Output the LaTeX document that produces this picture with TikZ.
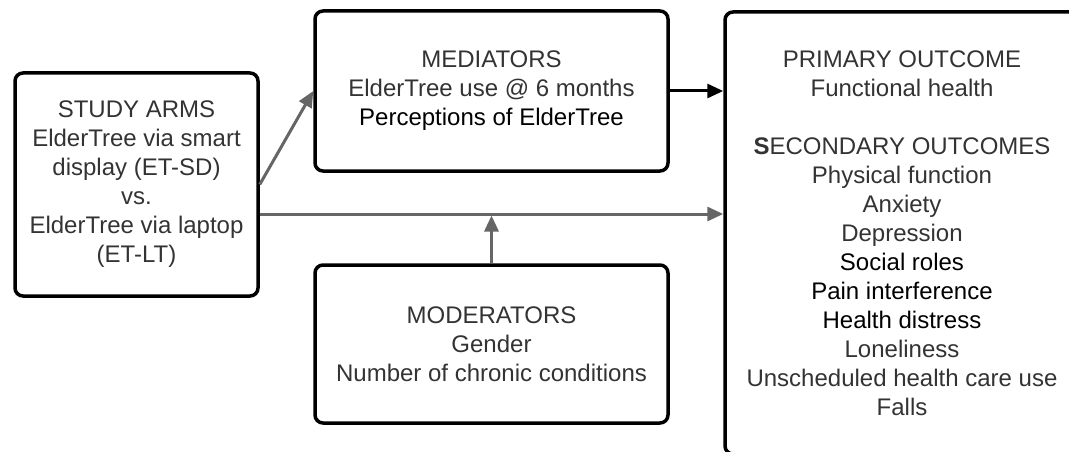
\documentclass[tikz,border=0pt]{standalone}
\usepackage{fontspec}
\setmainfont{Liberation Sans}
\usetikzlibrary{arrows.meta}
\definecolor{txtgray}{HTML}{333333}
\definecolor{linegray}{HTML}{666666}
\tikzset{
  box/.style={draw=black, line width=3.5pt, rounded corners=8pt, align=center,
    text=txtgray, font=\fontsize{24}{29}\selectfont, inner sep=0pt},
  link/.style={draw=linegray, line width=3pt, -{Triangle[length=16pt,width=14pt]}},
}
\begin{document}
\begin{tikzpicture}[x=1pt, y=-1pt]
            \useasboundingbox (0,0) rectangle (1069,452);
            \clip (0,0) rectangle (1069,452);
            % boxes
            \node[box, minimum width=243pt, minimum height=223pt] (arms) at (136.5,184.5)
              {STUDY ARMS\\ ElderTree via smart\\ display (ET-SD)\\ vs.\\ ElderTree via laptop\\ (ET-LT)};
            \node[box, minimum width=353pt, minimum height=160pt] (med) at (491.5,91)
              {MEDIATORS\\ ElderTree use @ 6 months\\ \textcolor{black}{Perceptions of ElderTree}};
            \node[box, minimum width=353pt, minimum height=158pt] (mod) at (491.5,344)
              {MODERATORS\\ Gender\\ Number of chronic conditions};
            \node[box, minimum width=354pt, minimum height=442pt] (out) at (902,233)
              {PRIMARY OUTCOME\\ Functional health\\[29pt]
               \textbf{S}ECONDARY OUTCOMES\\ Physical function\\ Anxiety\\ Depression\\
               \textcolor{black}{Social roles}\\ \textcolor{black}{Pain interference}\\
               \textcolor{black}{Health distress}\\ Loneliness\\ Unscheduled health care use\\ Falls};
            % connectors
            \coordinate (split) at (491.5,214);
            \draw[link] (arms.east) -- (med.west);
            \draw[link] (arms.east |- split) -- (out.west |- split);
            \draw[link, shorten >=1.5pt] (mod.north) -- (split);
            \draw[link, draw=black] (med.east) -- (out.west |- med.east);
        \end{tikzpicture}
\end{document}
